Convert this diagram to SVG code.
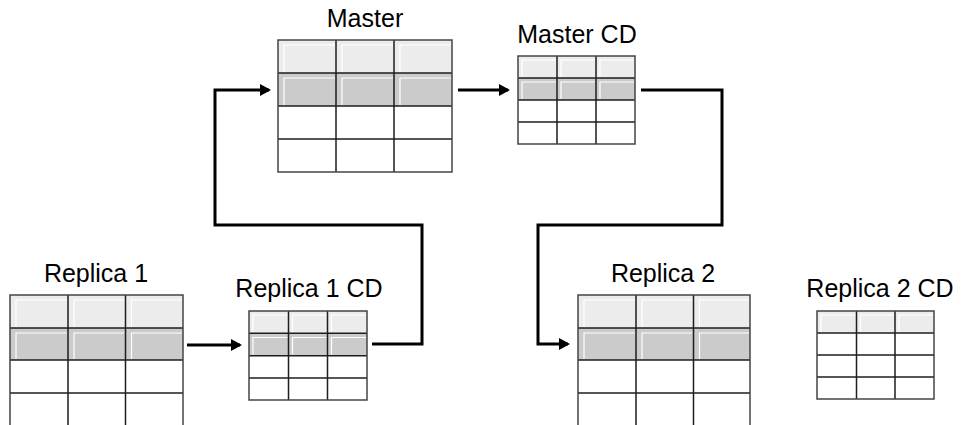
<svg xmlns="http://www.w3.org/2000/svg" width="964" height="425" viewBox="0 0 964 425">
<style>
  .lbl { font-family: "Liberation Sans", Arial, sans-serif; font-size: 25px; fill: #000; text-anchor: middle; }
  .r1 { fill: #ececec; }
  .r2 { fill: #cbcbcb; }
  .bg { fill: #ffffff; }
  .hl { fill: none; stroke: #ffffff; stroke-width: 1.2; }
  .grid { fill: none; stroke: #1e1e1e; stroke-width: 1.5; }
  .frame { fill: none; stroke: #444; stroke-width: 1.5; }
  .conn { fill: none; stroke: #000; stroke-width: 3; }
</style>
<defs>
  <marker id="arrow" markerUnits="userSpaceOnUse" markerWidth="12" markerHeight="14" refX="9" refY="7" orient="auto">
    <path d="M0,1 L11,7 L0,13 Z" fill="#000"/>
  </marker>
</defs>
<rect width="964" height="425" fill="#ffffff"/>

<g id="master">
  <text class="lbl" x="365" y="27">Master</text>
  <rect class="bg" x="278" y="40" width="174" height="132"/>
  <rect class="r1" x="278" y="40" width="174" height="33"/>
  <rect class="r2" x="278" y="73" width="174" height="33"/>
  <path class="hl" d="M284,72 V45 H335 M342,72 V45 H393 M400,72 V45 H451 M284,105 V78 H335 M342,105 V78 H393 M400,105 V78 H451"/>
  <path class="grid" d="M278,73 H452 M278,106 H452 M278,139 H452 M336,40 V172 M394,40 V172"/>
  <rect class="frame" x="278" y="40" width="174" height="132"/>
</g>

<g id="master-cd">
  <text class="lbl" x="577" y="43">Master CD</text>
  <rect class="bg" x="518" y="56" width="117" height="88"/>
  <rect class="r1" x="518" y="56" width="117" height="22"/>
  <rect class="r2" x="518" y="78" width="117" height="22"/>
  <path class="hl" d="M522,77 V60 H556 M561,77 V60 H595 M600,77 V60 H634 M522,99 V82 H556 M561,99 V82 H595 M600,99 V82 H634"/>
  <path class="grid" d="M518,78 H635 M518,100 H635 M518,122 H635 M557,56 V144 M596,56 V144"/>
  <rect class="frame" x="518" y="56" width="117" height="88"/>
</g>

<g id="replica-1">
  <text class="lbl" x="96" y="282">Replica 1</text>
  <rect class="bg" x="10" y="295" width="173" height="131"/>
  <rect class="r1" x="10" y="295" width="173" height="33"/>
  <rect class="r2" x="10" y="328" width="173" height="32"/>
  <path class="hl" d="M16,327 V300 H67 M74,327 V300 H124.5 M131.5,327 V300 H182 M16,359 V333 H67 M74,359 V333 H124.5 M131.5,359 V333 H182"/>
  <path class="grid" d="M10,328 H183 M10,360 H183 M10,393 H183 M68,295 V426 M125.5,295 V426"/>
  <rect class="frame" x="10" y="295" width="173" height="131"/>
</g>

<g id="replica-1-cd">
  <text class="lbl" x="309" y="297">Replica 1 CD</text>
  <rect class="bg" x="249" y="311" width="118" height="89"/>
  <rect class="r1" x="249" y="311" width="118" height="22.3"/>
  <rect class="r2" x="249" y="333.3" width="118" height="22.4"/>
  <path class="hl" d="M253,332 V315 H287.5 M292.5,332 V315 H326.5 M331.5,332 V315 H366 M253,354.5 V337.5 H287.5 M292.5,354.5 V337.5 H326.5 M331.5,354.5 V337.5 H366"/>
  <path class="grid" d="M249,333.3 H367 M249,355.7 H367 M249,378 H367 M288.5,311 V400 M327.5,311 V400"/>
  <rect class="frame" x="249" y="311" width="118" height="89"/>
</g>

<g id="replica-2">
  <text class="lbl" x="663" y="282">Replica 2</text>
  <rect class="bg" x="578" y="295" width="172" height="131"/>
  <rect class="r1" x="578" y="295" width="172" height="33"/>
  <rect class="r2" x="578" y="328" width="172" height="32"/>
  <path class="hl" d="M584,327 V300 H635 M642,327 V300 H692.5 M699.5,327 V300 H749 M584,359 V333 H635 M642,359 V333 H692.5 M699.5,359 V333 H749"/>
  <path class="grid" d="M578,328 H750 M578,360 H750 M578,393 H750 M636,295 V426 M693.5,295 V426"/>
  <rect class="frame" x="578" y="295" width="172" height="131"/>
</g>

<g id="replica-2-cd">
  <text class="lbl" x="880" y="297">Replica 2 CD</text>
  <rect class="bg" x="817" y="311" width="117" height="88"/>
  <rect class="r1" x="817" y="311" width="117" height="22"/>
  <path class="hl" d="M821,332 V315 H855.5 M860.5,332 V315 H894 M899,332 V315 H933"/>
  <path class="grid" d="M817,333 H934 M817,355 H934 M817,377 H934 M856.5,311 V399 M895,311 V399"/>
  <rect class="frame" x="817" y="311" width="117" height="88"/>
</g>

<g id="connectors">
  <path class="conn" d="M458,90 H508" marker-end="url(#arrow)"/>
  <path class="conn" d="M187,345 H240" marker-end="url(#arrow)"/>
  <path class="conn" d="M372,344 H422 V225 H215 V90 H269" marker-end="url(#arrow)"/>
  <path class="conn" d="M641,90 H722 V225 H538 V344 H568" marker-end="url(#arrow)"/>
</g>
</svg>
